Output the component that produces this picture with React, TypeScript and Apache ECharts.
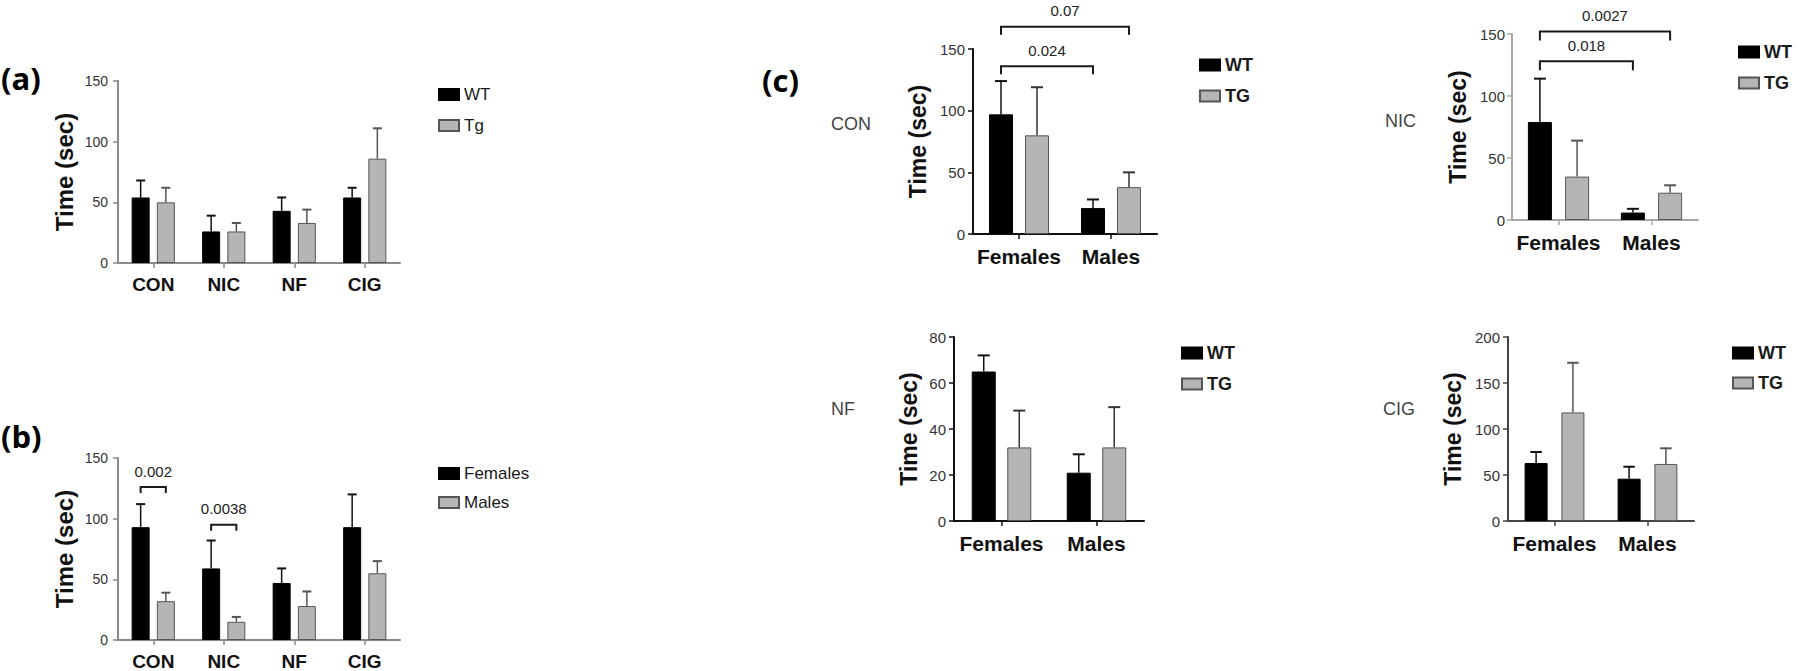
import React, { useEffect, useRef } from "react";
import * as echarts from "echarts";

// ---------- data ----------
const groupCats = ["CON", "NIC", "NF", "CIG"];
const sexCats = ["Females", "Males"];

// (a) genotype by treatment
const aWT = [54, 26, 43, 54];
const aWTTop = [68, 39, 54, 62];
const aTg = [50, 26, 33, 86];
const aTgTop = [62, 33, 44, 111];

// (b) sex by treatment
const bFemales = [93, 59, 47, 93];
const bFemalesTop = [112, 82, 59, 120];
const bMales = [32, 15, 28, 55];
const bMalesTop = [39, 19, 40, 65];
const bBrackets = [
  { from: [0, 0], to: [0, 1], y: 126, label: "0.002" },
  { from: [1, 0], to: [1, 1], y: 95, label: "0.0038" },
];

// (c) per treatment, sex x genotype
const conWT = [97, 21];
const conWTTop = [124, 28];
const conTG = [80, 38];
const conTGTop = [119, 50];
const conBrackets = [
  { from: [0, 0], to: [1, 0], y: 136, label: "0.024" },
  { from: [0, 0], to: [1, 1], y: 168, label: "0.07" },
];

const nicWT = [79, 6];
const nicWTTop = [114, 9];
const nicTG = [35, 22];
const nicTGTop = [64, 28];
const nicBrackets = [
  { from: [0, 0], to: [1, 0], y: 128, label: "0.018" },
  { from: [0, 0], to: [1, 1], y: 152, label: "0.0027" },
];

const nfWT = [65, 21];
const nfWTTop = [72, 29];
const nfTG = [32, 32];
const nfTGTop = [48, 49.5];

const cigWT = [63, 46];
const cigWTTop = [75, 59];
const cigTG = [118, 62];
const cigTGTop = [172, 79];

const yMax = [150, 150, 150, 150, 80, 200];
const yInterval = [50, 50, 50, 50, 20, 50];

// ---------- styling ----------
const FONT = "'Liberation Sans', Arial, sans-serif";
const BLACK = "#000000";
const GRAY = "#b5b5b5";
const GRAY_EDGE = "#555555";

type Panel = {
  grid: { left: number; top: number; width: number; height: number };
  cats: string[];
  bw: number;
  gr: number;
  axisColor: string;
  tick: number;
  cat: number;
  yName: number;
  nameGap: number;
  labelMargin: number;
  leg: number;
};

const panels: Panel[] = [
  { grid: { left: 118, top: 81, width: 282, height: 182 }, cats: groupCats, bw: 18, gr: 0.4, axisColor: "#8a8a8a", tick: 14, cat: 19, yName: 24, nameGap: 42, labelMargin: 10, leg: 6 },
  { grid: { left: 118, top: 458, width: 282, height: 184 }, cats: groupCats, bw: 18, gr: 0.4, axisColor: "#8a8a8a", tick: 14, cat: 19, yName: 24, nameGap: 42, labelMargin: 10, leg: 6 },
  { grid: { left: 973, top: 49, width: 184, height: 185 }, cats: sexCats, bw: 24, gr: 0.5, axisColor: "#111111", tick: 15, cat: 21, yName: 23, nameGap: 44, labelMargin: 8, leg: 8 },
  { grid: { left: 1512, top: 34, width: 186, height: 186 }, cats: sexCats, bw: 24, gr: 0.55, axisColor: "#a8a8a8", tick: 15, cat: 21, yName: 23, nameGap: 43, labelMargin: 7, leg: 9 },
  { grid: { left: 954, top: 337, width: 190, height: 184 }, cats: sexCats, bw: 24, gr: 0.48, axisColor: "#111111", tick: 15, cat: 21, yName: 23, nameGap: 34, labelMargin: 8, leg: 8 },
  { grid: { left: 1508, top: 337, width: 186, height: 184 }, cats: sexCats, bw: 23, gr: 0.6, axisColor: "#444444", tick: 15, cat: 21, yName: 23, nameGap: 44, labelMargin: 8, leg: 8 },
];

const off = (i: number, bw: number, gr: number) => (i - 0.5) * bw * (1 + gr);

function barSeries(gi: number, name: string, data: number[], dark: boolean) {
  const p = panels[gi];
  return {
    type: "bar",
    name,
    xAxisIndex: gi,
    yAxisIndex: gi,
    data,
    barWidth: p.bw,
    barGap: `${p.gr * 100}%`,
    itemStyle: dark
      ? { color: BLACK, borderColor: BLACK, borderWidth: 1 }
      : { color: GRAY, borderColor: GRAY_EDGE, borderWidth: 1 },
    z: 2,
  };
}

function errSeries(gi: number, means: number[], tops: number[], i: number, color: string) {
  const p = panels[gi];
  return {
    type: "custom",
    xAxisIndex: gi,
    yAxisIndex: gi,
    clip: false,
    silent: true,
    z: 5,
    data: means.map((m, k) => [k, m, tops[k]]),
    renderItem: (params: any, api: any) => {
      const c = api.value(0);
      const m = api.value(1);
      const t = api.value(2);
      const p0 = api.coord([c, m]);
      const p1 = api.coord([c, t]);
      const x = p0[0] + off(i, p.bw, p.gr);
      const cap = p.bw * 0.5;
      return {
        type: "group",
        children: [
          { type: "line", shape: { x1: x, y1: p0[1], x2: x, y2: p1[1] }, style: { stroke: color, lineWidth: 1.5 } },
          { type: "line", shape: { x1: x - cap / 2, y1: p1[1], x2: x + cap / 2, y2: p1[1] }, style: { stroke: color, lineWidth: 2 } },
        ],
      };
    },
  };
}

function bracketSeries(gi: number, list: { from: number[]; to: number[]; y: number; label: string }[]) {
  const p = panels[gi];
  return {
    type: "custom",
    xAxisIndex: gi,
    yAxisIndex: gi,
    clip: false,
    silent: true,
    z: 6,
    data: list.map((b) => [b.from[0], b.y]),
    renderItem: (params: any, api: any) => {
      const b = list[params.dataIndex];
      const y = api.coord([b.from[0], b.y])[1];
      const x1 = api.coord([b.from[0], b.y])[0] + off(b.from[1], p.bw, p.gr);
      const x2 = api.coord([b.to[0], b.y])[0] + off(b.to[1], p.bw, p.gr);
      return {
        type: "group",
        children: [
          {
            type: "polyline",
            shape: { points: [[x1, y + p.leg], [x1, y], [x2, y], [x2, y + p.leg]] },
            style: { stroke: "#1a1a1a", lineWidth: 2, fill: "none" },
          },
          {
            type: "text",
            style: {
              text: b.label,
              x: (x1 + x2) / 2,
              y: y - 16,
              align: "center",
              verticalAlign: "middle",
              fontSize: 15,
              fontFamily: FONT,
              fill: "#222",
            },
          },
        ],
      };
    },
  };
}

function legend(names: string[], left: number, top: number, gap: number, fs: number, bold: boolean) {
  return {
    data: names,
    orient: "vertical",
    left,
    top,
    padding: 0,
    itemGap: gap,
    itemWidth: 20,
    itemHeight: 11,
    icon: "rect",
    selectedMode: false,
    textStyle: { fontSize: fs, lineHeight: 16, fontFamily: FONT, color: "#1a1a1a", fontWeight: bold ? "bold" : "normal" },
  };
}

function panelText(text: string, x: number, top: number, fs: number, bold = false, family = FONT, color = "#444") {
  return {
    type: "text",
    left: x,
    top,
    style: { text, fontSize: fs, fontFamily: family, fill: color, fontWeight: bold ? "bold" : "normal" },
  };
}

const LETTER_FONT = "'Open Sans', 'Noto Sans', sans-serif";

export default function App() {
  const ref = useRef<HTMLDivElement>(null);

  useEffect(() => {
    document.body.style.margin = "0";
    if (!ref.current) return;
    const chart = echarts.init(ref.current, undefined, { renderer: "svg" });

    const option: any = {
      animation: false,
      backgroundColor: "#ffffff",
      grid: panels.map((p) => ({ ...p.grid, containLabel: false })),
      xAxis: panels.map((p, gi) => ({
        type: "category",
        gridIndex: gi,
        data: p.cats,
        axisLine: { show: true, lineStyle: { color: p.axisColor, width: 2 } },
        axisTick: { show: true, alignWithLabel: true, interval: 0, length: 5, lineStyle: { color: p.axisColor, width: 1.5 } },
        axisLabel: { interval: 0, fontSize: p.cat, fontWeight: "bold", fontFamily: FONT, color: "#111", margin: 12 },
        splitLine: { show: false },
      })),
      yAxis: panels.map((p, gi) => ({
        type: "value",
        gridIndex: gi,
        min: 0,
        max: yMax[gi],
        interval: yInterval[gi],
        name: "Time (sec)",
        nameLocation: "middle",
        nameGap: p.nameGap,
        nameTextStyle: { fontSize: p.yName, fontWeight: "bold", fontFamily: FONT, color: "#111" },
        axisLine: { show: true, lineStyle: { color: p.axisColor, width: 2 } },
        axisTick: { show: true, length: 5, lineStyle: { color: p.axisColor, width: 1.5 } },
        axisLabel: { fontSize: p.tick, fontFamily: FONT, color: "#333", margin: p.labelMargin },
        splitLine: { show: false },
      })),
      legend: [
        legend(["WT", "Tg"], 438, 86, 14, 17, false),
        legend(["Females", "Males"], 438, 465, 12, 17, false),
        legend(["WT", "TG"], 1199, 56, 13, 18, true),
        legend(["WT", "TG"], 1738, 43, 13, 18, true),
        legend(["WT", "TG"], 1181, 344, 13, 18, true),
        legend(["WT", "TG"], 1732, 344, 12, 18, true),
      ],
      graphic: [
        panelText("(a)", 1, 62, 31, true, LETTER_FONT, "#000"),
        panelText("(b)", 1, 420, 31, true, LETTER_FONT, "#000"),
        panelText("(c)", 762, 64, 31, true, LETTER_FONT, "#000"),
        panelText("CON", 831, 115, 18),
        panelText("NIC", 1385, 112, 18),
        panelText("NF", 831, 400, 18),
        panelText("CIG", 1383, 400, 18),
      ],
      series: [
        barSeries(0, "WT", aWT, true),
        barSeries(0, "Tg", aTg, false),
        errSeries(0, aWT, aWTTop, 0, "#111"),
        errSeries(0, aTg, aTgTop, 1, GRAY_EDGE),

        barSeries(1, "Females", bFemales, true),
        barSeries(1, "Males", bMales, false),
        errSeries(1, bFemales, bFemalesTop, 0, "#111"),
        errSeries(1, bMales, bMalesTop, 1, GRAY_EDGE),
        bracketSeries(1, bBrackets),

        barSeries(2, "WT", conWT, true),
        barSeries(2, "TG", conTG, false),
        errSeries(2, conWT, conWTTop, 0, "#111"),
        errSeries(2, conTG, conTGTop, 1, "#333"),
        bracketSeries(2, conBrackets),

        barSeries(3, "WT", nicWT, true),
        barSeries(3, "TG", nicTG, false),
        errSeries(3, nicWT, nicWTTop, 0, "#111"),
        errSeries(3, nicTG, nicTGTop, 1, GRAY_EDGE),
        bracketSeries(3, nicBrackets),

        barSeries(4, "WT", nfWT, true),
        barSeries(4, "TG", nfTG, false),
        errSeries(4, nfWT, nfWTTop, 0, "#111"),
        errSeries(4, nfTG, nfTGTop, 1, "#333"),

        barSeries(5, "WT", cigWT, true),
        barSeries(5, "TG", cigTG, false),
        errSeries(5, cigWT, cigWTTop, 0, "#111"),
        errSeries(5, cigTG, cigTGTop, 1, GRAY_EDGE),
      ],
    };

    chart.setOption(option);
    return () => chart.dispose();
  }, []);

  return <div ref={ref} style={{ width: 1800, height: 671 }} />;
}
